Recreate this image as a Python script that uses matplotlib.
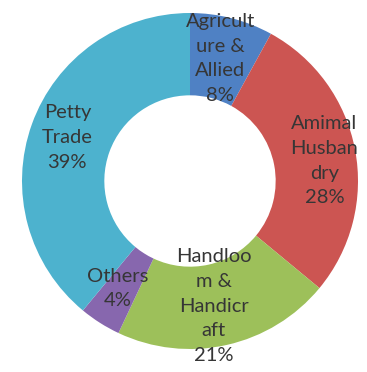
import matplotlib
matplotlib.use("Agg")
import matplotlib.pyplot as plt

# 職業分布資料
labels = ["Agricult\nure &\nAllied", "Amimal\nHusban\ndry", "Handloo\nm &\nHandicr\naft", "Others", "Petty\nTrade"]
shares = [8, 28, 21, 4, 39]
colors = ["#4F81C4", "#CC5552", "#9DC05A", "#8767AE", "#4DB2CE"]

# 標籤位置(資料座標)
label_pos = [(0.18, 0.73), (0.80, 0.12), (0.14, -0.745), (-0.43, -0.64), (-0.73, 0.26)]

fig = plt.figure(figsize=(3.67, 3.72), dpi=100)
ax = fig.add_axes([22 / 367, 23 / 372, 336 / 367, 336 / 372])
ax.pie(shares, colors=colors, startangle=90, counterclock=False, radius=1.0,
       wedgeprops=dict(width=0.49, linewidth=0))
for text, share, (x, y) in zip(labels, shares, label_pos):
    ax.text(x, y, f"{text}\n{share}%", ha="center", va="center",
            fontsize=14.5, family="Lato", color="#363636", linespacing=1.55)
ax.set_xlim(-1, 1)
ax.set_ylim(-1, 1)
ax.set_aspect("equal")
ax.axis("off")
fig.savefig("out.png", dpi=100)
